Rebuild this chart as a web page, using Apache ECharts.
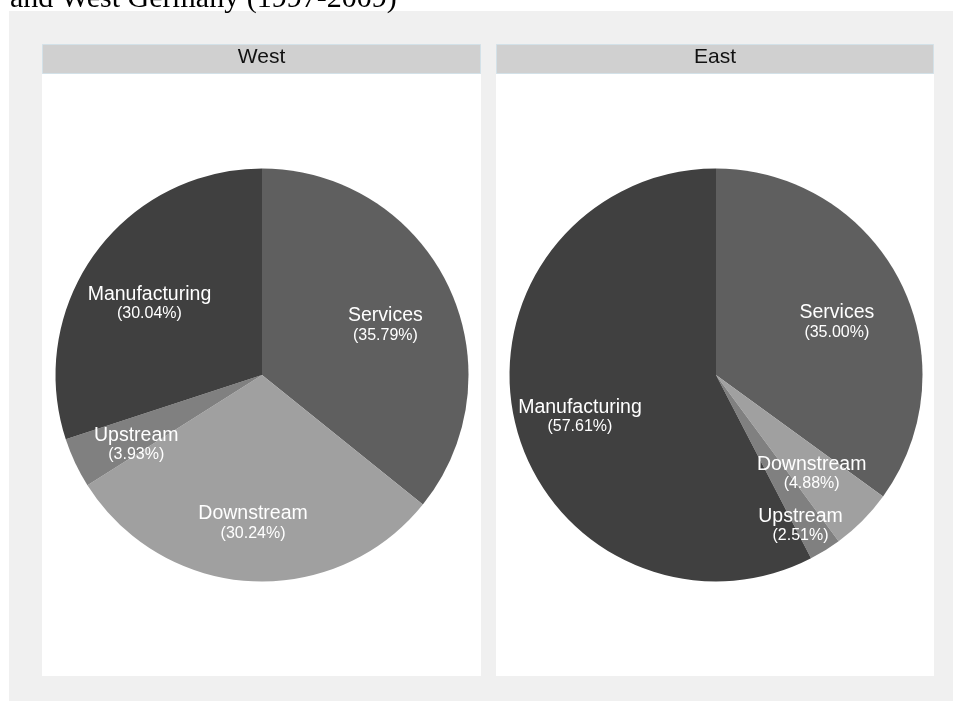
<!DOCTYPE html>
<html>
<head>
<meta charset="utf-8">
<script src="https://cdn.jsdelivr.net/npm/echarts@6/dist/echarts.min.js"></script>
<style>
html,body{margin:0;padding:0;background:#fff;}
#c{width:953px;height:701px;}
</style>
</head>
<body>
<div id="c"></div>
<script>
// ---- data ----
const titleText = 'and West Germany (1997-2009)';
const panels = ['West', 'East'];
const categoriesWest = ['Services', 'Downstream', 'Upstream', 'Manufacturing'];
const valuesWest = [35.79, 30.24, 3.93, 30.04];
const categoriesEast = ['Services', 'Downstream', 'Upstream', 'Manufacturing'];
const valuesEast = [35.00, 4.88, 2.51, 57.61];

// ---- styles ----
const sliceColors = {
  Services: '#5f5f5f',
  Downstream: '#a0a0a0',
  Upstream: '#808080',
  Manufacturing: '#404040'
};
const labelShiftWest = [[-2, 10.5], [-1, 9.5], [0, 10.5], [0, 10.5]];
const labelShiftEast = [[-3, 10.5], [-3, 1], [11, 33], [-1, 9]];

const chart = echarts.init(document.getElementById('c'), null, {renderer: 'canvas'});

function makeData(cats, vals) {
  return cats.map((c, i) => ({name: c, value: vals[i], itemStyle: {color: sliceColors[c]}}));
}

function pieSeries(cats, vals, center, shifts) {
  const R = 206.5;
  return [
    {
      type: 'pie', center: center, radius: [0, R], startAngle: 90, clockwise: true,
      silent: true, animation: false, label: {show: false}, labelLine: {show: false},
      itemStyle: {borderWidth: 0},
      data: makeData(cats, vals)
    },
    {
      type: 'pie', center: center, radius: [65.5, R], startAngle: 90, clockwise: true,
      silent: true, animation: false, avoidLabelOverlap: false,
      itemStyle: {color: 'rgba(0,0,0,0)', borderWidth: 0},
      labelLine: {show: false},
      label: {
        show: true, position: 'inside', color: '#fff', overflow: 'none',
        formatter: p => '{n|' + p.name + '}\n{p|(' + p.value.toFixed(2) + '%)}',
        rich: {
          n: {fontFamily: 'Liberation Sans, Arial, sans-serif', fontSize: 19.5, lineHeight: 20, color: '#fff'},
          p: {fontFamily: 'Liberation Sans, Arial, sans-serif', fontSize: 16, lineHeight: 19, color: '#fff'}
        }
      },
      labelLayout: params => ({dx: shifts[params.dataIndex][0], dy: shifts[params.dataIndex][1]}),
      data: cats.map((c, i) => ({name: c, value: vals[i]}))
    }
  ];
}

const panelBoxes = [[42, 481], [496, 934]];
const graphics = [
  {type: 'rect', z: -20, shape: {x: 9, y: 11, width: 944, height: 690}, style: {fill: '#f0f0f0'}},
  {type: 'text', z: 1, x: 10, y: -0.5, style: {text: titleText, font: '30px "Liberation Serif", "DejaVu Serif", serif', fill: '#000', verticalAlign: 'middle', align: 'left'}}
];
panels.forEach((name, i) => {
  const [x0, x1] = panelBoxes[i];
  graphics.push({type: 'rect', z: -10, shape: {x: x0, y: 74, width: x1 - x0, height: 602}, style: {fill: '#ffffff'}});
  graphics.push({type: 'rect', z: -5, shape: {x: x0 + 0.5, y: 44.5, width: x1 - x0 - 1, height: 29}, style: {fill: '#d0d0d0', stroke: '#d3e1e8', lineWidth: 1}});
  graphics.push({type: 'text', z: 1, x: (x0 + x1) / 2, y: 57, style: {text: name, font: '21px "Liberation Sans", Arial, sans-serif', fill: '#111', align: 'center', verticalAlign: 'middle'}});
});

chart.setOption({
  animation: false,
  backgroundColor: '#ffffff',
  graphic: graphics,
  series: [
    ...pieSeries(categoriesWest, valuesWest, [262, 375], labelShiftWest),
    ...pieSeries(categoriesEast, valuesEast, [716, 375], labelShiftEast)
  ]
});
</script>
</body>
</html>
